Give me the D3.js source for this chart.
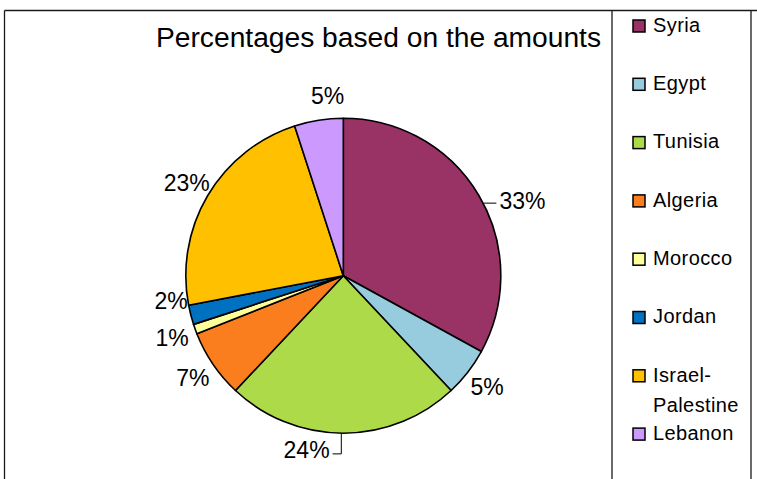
<!DOCTYPE html>
<html>
<head>
<meta charset="utf-8">
<script src="https://cdn.jsdelivr.net/npm/d3@7"></script>
<style>
  html, body { margin: 0; padding: 0; background: #fff; }
  svg { display: block; font-family: "Liberation Sans", Arial, Helvetica, sans-serif; }
</style>
</head>
<body>
<svg id="chart" width="757" height="479"></svg>
<script>
// Share of the amounts by country (percent)
const countries = ["Syria", "Egypt", "Tunisia", "Algeria", "Morocco", "Jordan", "Israel-Palestine", "Lebanon"];
const shares = [33, 5, 24, 7, 1, 2, 23, 5];
const legendLines = [["Syria"], ["Egypt"], ["Tunisia"], ["Algeria"], ["Morocco"], ["Jordan"], ["Israel-", "Palestine"], ["Lebanon"]];
const sliceColors = ["#993366", "#96CCDD", "#ADDA48", "#FA7D1E", "#FFFF99", "#0070C0", "#FFC000", "#CC99FF"];

// label placement tweaks: extra angle (deg), radius, leader style
const labelTweaks = {
  "Syria":   { dAngle: 8.0, r: 194, leader: "side" },
  "Tunisia": { dAngle: 11.9, r: 178, leader: "elbow" },
  "Jordan":  { dAngle: 6.0, r: 174 },
  "Lebanon": { dAngle: 4.0, r: 181 }
};

const svg = d3.select("#chart");
const W = 757, H = 479;
const cx = 343.3, cy = 275.7, R = 157.5, labelR = 182;
const labelSize = 23;

// frame lines
const frame = svg.append("g").attr("stroke", "#1a1a1a").attr("stroke-width", 1.3).attr("fill", "none");
frame.append("line").attr("x1", 4.5).attr("y1", 10.5).attr("x2", W).attr("y2", 10.5);
frame.append("line").attr("x1", 4.5).attr("y1", 10.5).attr("x2", 4.5).attr("y2", H);
frame.append("line").attr("x1", 612).attr("y1", 10.5).attr("x2", 612).attr("y2", H);
frame.append("line").attr("x1", 751).attr("y1", 10.5).attr("x2", 751).attr("y2", H);

// title
svg.append("text")
  .attr("x", 156).attr("y", 47)
  .attr("font-size", 28.2).attr("fill", "#000")
  .text("Percentages based on the amounts");

const data = countries.map((c, i) => ({ name: c, value: shares[i], color: sliceColors[i] }));
const pie = d3.pie().value(d => d.value).sort(null);
const arcs = pie(data);
const arc = d3.arc().innerRadius(0).outerRadius(R);

const g = svg.append("g").attr("transform", `translate(${cx},${cy})`);
g.selectAll("path.slice").data(arcs).join("path")
  .attr("class", "slice")
  .attr("d", arc)
  .attr("fill", d => d.data.color)
  .attr("stroke", "#000").attr("stroke-width", 1.6).attr("stroke-linejoin", "round");

// percent labels
const capH = labelSize * 0.716;
arcs.forEach(a => {
  const t = labelTweaks[a.data.name] || {};
  const mid = (a.startAngle + a.endAngle) / 2 + (t.dAngle || 0) * Math.PI / 180;
  const r = t.r || labelR;
  const lx = r * Math.sin(mid), ly = -r * Math.cos(mid);
  const label = g.append("text")
    .attr("x", lx).attr("y", ly + capH / 2)
    .attr("text-anchor", "middle")
    .attr("font-size", labelSize).attr("fill", "#000")
    .text(a.data.value + "%");
  const bb = label.node().getBBox();
  const yLine = ly + 2;
  if (t.leader === "side") {
    const x0 = Math.sqrt(R * R - yLine * yLine);
    g.append("line")
      .attr("x1", x0).attr("y1", yLine).attr("x2", bb.x - 3).attr("y2", yLine)
      .attr("stroke", "#000").attr("stroke-width", 1);
  } else if (t.leader === "elbow") {
    const m0 = (a.startAngle + a.endAngle) / 2;
    const px = R * Math.sin(m0), py = -R * Math.cos(m0);
    g.append("path")
      .attr("d", d3.line()([[px - 2, py], [px - 2, yLine + 2], [bb.x + bb.width + 3, yLine + 2]]))
      .attr("fill", "none").attr("stroke", "#000").attr("stroke-width", 1);
  }
});

// legend
const rowStep = 58.3, firstBase = 31.7;
const legend = svg.append("g");
legendLines.forEach((lines, i) => {
  const base = firstBase + i * rowStep;
  legend.append("rect")
    .attr("x", 633).attr("y", base - 11.7).attr("width", 12).attr("height", 12)
    .attr("fill", sliceColors[i]).attr("stroke", "#000").attr("stroke-width", 1.5);
  const tx = legend.append("text")
    .attr("x", 653).attr("y", base)
    .attr("font-size", 20).attr("letter-spacing", 0.4).attr("fill", "#000");
  lines.forEach((ln, k) => {
    tx.append("tspan").attr("x", 653).attr("y", base + k * 30).text(ln);
  });
});
</script>
</body>
</html>
